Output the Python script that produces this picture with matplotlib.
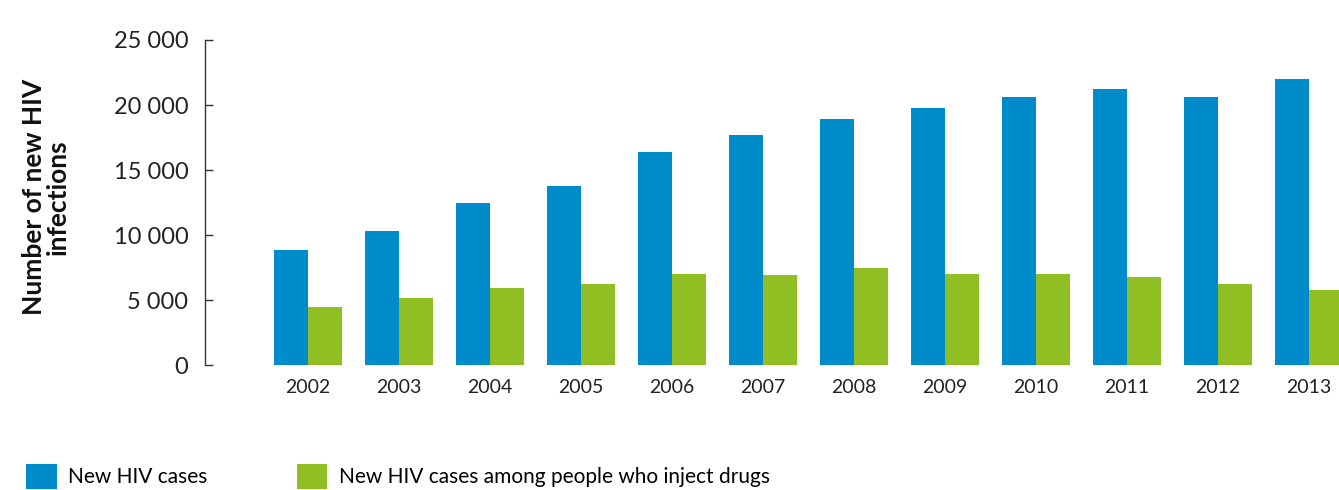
import matplotlib
matplotlib.use("Agg")
import matplotlib.pyplot as plt
import numpy as np
from matplotlib.patches import Patch

years = ["2002", "2003", "2004", "2005", "2006", "2007", "2008", "2009", "2010", "2011", "2012", "2013"]
new_hiv = [8850, 10300, 12450, 13750, 16400, 17700, 18900, 19750, 20600, 21250, 20600, 22000]
new_hiv_pwid = [4450, 5150, 5900, 6250, 7000, 6900, 7450, 7000, 7000, 6750, 6250, 5750]
series_names = ["New HIV cases", "New HIV cases among people who inject drugs"]
yticks = [0, 5000, 10000, 15000, 20000, 25000]
ytick_labels = ["0", "5 000", "10 000", "15 000", "20 000", "25 000"]

BLUE = "#008BCA"
GREEN = "#8FBF23"

plt.rcParams['font.family'] = ['Lato', 'DejaVu Sans']

fig = plt.figure(figsize=(13.39, 4.9), dpi=100)
W, H = 1339, 490
ax = fig.add_axes([205 / W, 1 - 365 / H, (1339 - 205) / W, (365 - 40) / H])

x = np.arange(len(years))
bw = 34 / 91
ax.bar(x - bw / 2, new_hiv, width=bw, color=BLUE, label=series_names[0])
ax.bar(x + bw / 2, new_hiv_pwid, width=bw, color=GREEN, label=series_names[1])

ax.set_xlim((205 - 308) / 91, (1339 - 308) / 91)
ax.set_ylim(0, 25000)
ax.set_yticks(yticks)
ax.set_yticklabels(ytick_labels, fontsize=17, color="#222222")
ax.set_xticks(x)
ax.set_xticklabels(years, fontsize=14, color="#222222")

for s in ["top", "right", "bottom"]:
    ax.spines[s].set_visible(False)
ax.spines["left"].set_color("#333333")
ax.spines["left"].set_linewidth(1.0)
ax.tick_params(axis="y", direction="in", length=6, width=1.0, color="#333333", pad=12)
ax.tick_params(axis="x", length=0, pad=10)

fig.text(46 / W, 1 - 197 / H, "Number of new HIV\ninfections", rotation=90,
         ha="center", va="center", fontsize=19, fontweight="bold", linespacing=1.0,
         color="#111111")

handles = [Patch(facecolor=BLUE, edgecolor="none"), Patch(facecolor=GREEN, edgecolor="none")]
fig.legend(handles, series_names, loc="lower left", bbox_to_anchor=(16 / W, -9 / H),
           ncol=2, frameon=False, fontsize=15, handlelength=1.45, handleheight=1.45,
           handletextpad=0.55, columnspacing=4.3, borderpad=0.0)

fig.savefig("out.png", dpi=100)
